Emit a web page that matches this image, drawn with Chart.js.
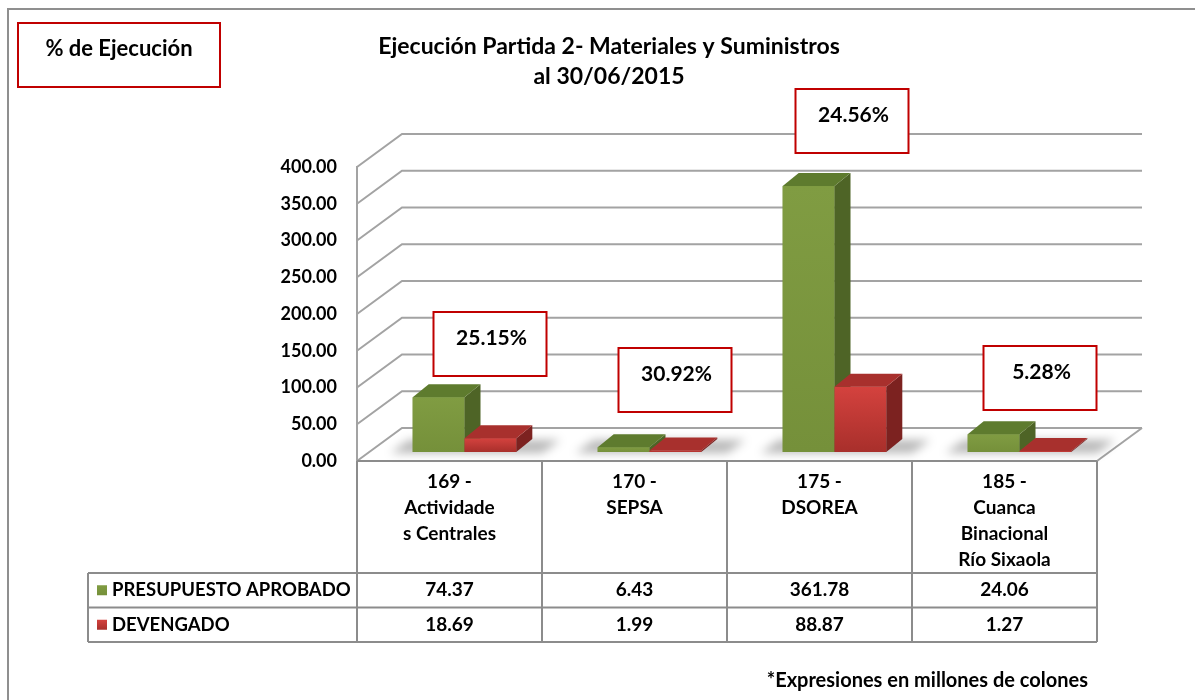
<!DOCTYPE html>
<html>
<head>
<meta charset="utf-8">
<script src="https://cdn.jsdelivr.net/npm/chart.js@4.4.0/dist/chart.umd.min.js"></script>
<style>
html, body { margin: 0; padding: 0; background: #fff; }
#wrap { width: 1195px; height: 700px; position: relative; }
</style>
</head>
<body>
<div id="wrap"><canvas id="chart"></canvas></div>
<script>
// ==========================================
// Data
// ==========================================

const categories = [
    ["169 -", "Actividade", "s Centrales"],
    ["170 -", "SEPSA"],
    ["175 -", "DSOREA"],
    ["185 -", "Cuanca", "Binacional", "Río Sixaola"]
];

const seriesNames = ["PRESUPUESTO APROBADO", "DEVENGADO"];

const presupuesto = [74.37, 6.43, 361.78, 24.06];

const devengado = [18.69, 1.99, 88.87, 1.27];

const ejecucion = [25.15, 30.92, 24.56, 5.28];

const yMin = 0;
const yMax = 400;
const yStep = 50;

const chartTitle = ["Ejecución Partida 2- Materiales y Suministros", "al 30/06/2015"];
const boxLabel = "% de Ejecución";
const footnote = "*Expresiones en millones de colones";


// ==========================================
// Look
// ==========================================

const FONT = "Lato, 'Open Sans', sans-serif";
const GRID = "#a3a3a3";
const WALL = {x: 45, y: -33};       // back wall offset
const SHIFT = {x: 15, y: -9};       // bars sit a bit inside the floor
const DEPTH = {x: 16, y: -13};      // bar thickness

const colors = [
    {front: ["#809c42", "#75903a"], side: "#4e6426", top: "#5e7b2e"},
    {front: ["#d4423e", "#a82f2b"], side: "#7c2220", top: "#a8302d"}
];

// % boxes, placed by hand like the text boxes of the original
const boxTop = [312, 348, 89, 346];
const boxShift = [40, 40, 32, 35];


// ==========================================
// 3D walls and bars
// ==========================================

function drawBar(ctx, el, c) {

    const p = el.getProps(["x", "y", "base", "width"], true);
    const x1 = p.x - p.width / 2;
    const x2 = p.x + p.width / 2;
    const top = Math.min(p.y, p.base);
    const base = p.base;

    const g = ctx.createLinearGradient(0, top, 0, base);
    g.addColorStop(0, c.front[0]);
    g.addColorStop(1, c.front[1]);
    ctx.fillStyle = g;
    ctx.fillRect(x1, top, x2 - x1, base - top);

    ctx.fillStyle = c.side;
    ctx.beginPath();
    ctx.moveTo(x2, top);
    ctx.lineTo(x2 + DEPTH.x, top + DEPTH.y);
    ctx.lineTo(x2 + DEPTH.x, base + DEPTH.y);
    ctx.lineTo(x2, base);
    ctx.closePath();
    ctx.fill();

    ctx.fillStyle = c.top;
    ctx.beginPath();
    ctx.moveTo(x1, top);
    ctx.lineTo(x1 + DEPTH.x, top + DEPTH.y);
    ctx.lineTo(x2 + DEPTH.x, top + DEPTH.y);
    ctx.lineTo(x2, top);
    ctx.closePath();
    ctx.fill();
}

const wallPlugin = {

    id: "wall3d",

    beforeDatasetsDraw(chart) {

        const {ctx, chartArea: a, scales: {y}} = chart;

        ctx.save();
        ctx.strokeStyle = GRID;
        ctx.lineWidth = 2;

        y.ticks.forEach(t => {
            const py = y.getPixelForValue(t.value);
            ctx.beginPath();
            ctx.moveTo(a.left, py);
            ctx.lineTo(a.left + WALL.x, py + WALL.y);
            ctx.lineTo(a.right + WALL.x, py + WALL.y);
            ctx.stroke();
        });

        // floor right edge
        ctx.beginPath();
        ctx.moveTo(a.right, a.bottom);
        ctx.lineTo(a.right + WALL.x, a.bottom + WALL.y);
        ctx.stroke();

        // soft shadows on the floor
        const m0 = chart.getDatasetMeta(0).data;
        const m1 = chart.getDatasetMeta(1).data;
        ctx.filter = "blur(5px)";
        ctx.fillStyle = "rgba(0,0,0,0.28)";
        m0.forEach((el, i) => {
            const g = el.getProps(["x", "width", "base"], true);
            const r = m1[i].getProps(["x", "width"], true);
            const l = g.x - g.width / 2 + SHIFT.x;
            const rr = r.x + r.width / 2 + SHIFT.x;
            const b = g.base + SHIFT.y;
            ctx.beginPath();
            ctx.moveTo(l - 22, b + 1);
            ctx.lineTo(rr + 26, b + 1);
            ctx.lineTo(rr + 44, b - 12);
            ctx.lineTo(l - 4, b - 12);
            ctx.closePath();
            ctx.fill();
        });
        ctx.filter = "none";
        ctx.restore();

        ctx.save();
        ctx.translate(SHIFT.x, SHIFT.y);
    },

    afterDatasetsDraw(chart) {

        const ctx = chart.ctx;
        const m0 = chart.getDatasetMeta(0).data;
        const m1 = chart.getDatasetMeta(1).data;

        m0.forEach((el, i) => {
            drawBar(ctx, el, colors[0]);
            drawBar(ctx, m1[i], colors[1]);
        });

        ctx.restore();
    }
};


// ==========================================
// Table, title and text boxes
// ==========================================

const tablePlugin = {

    id: "dataTable",

    afterDraw(chart) {

        const {ctx, chartArea: a, scales: {x}} = chart;
        const slot = (a.right - a.left) / categories.length;
        const headBottom = a.bottom + 112;
        const rowH = 34.5;
        const tableLeft = 88;

        ctx.save();

        // frame of the picture
        ctx.strokeStyle = "#8f8f8f";
        ctx.lineWidth = 2;
        ctx.beginPath();
        ctx.moveTo(8, 700);
        ctx.lineTo(8, 9);
        ctx.lineTo(1195, 9);
        ctx.stroke();

        // table lines
        ctx.strokeStyle = "#8c8c8c";
        ctx.lineWidth = 2;
        ctx.beginPath();
        ctx.moveTo(a.left, a.bottom);
        ctx.lineTo(a.right, a.bottom);
        for (let r = 0; r <= 2; r++) {
            ctx.moveTo(tableLeft, headBottom + r * rowH);
            ctx.lineTo(a.right, headBottom + r * rowH);
        }
        ctx.moveTo(tableLeft, headBottom);
        ctx.lineTo(tableLeft, headBottom + 2 * rowH);
        for (let i = 0; i <= categories.length; i++) {
            const px = a.left + i * slot;
            ctx.moveTo(px, a.bottom);
            ctx.lineTo(px, headBottom + 2 * rowH);
        }
        ctx.stroke();

        ctx.fillStyle = "#000";
        ctx.textAlign = "center";
        ctx.textBaseline = "middle";
        ctx.font = "bold 19px " + FONT;

        // category headers
        categories.forEach((lines, i) => {
            const cx = x.getPixelForValue(i);
            lines.forEach((t, k) => ctx.fillText(t, cx, a.bottom + 21 + k * 26));
        });

        // values
        [presupuesto, devengado].forEach((vals, r) => {
            const cy = headBottom + r * rowH + rowH / 2;
            ctx.font = "bold 19px " + FONT;
            vals.forEach((v, i) => ctx.fillText(v.toFixed(2), x.getPixelForValue(i), cy));

            const k = ctx.createLinearGradient(0, cy - 5, 0, cy + 5);
            k.addColorStop(0, colors[r].front[0]);
            k.addColorStop(1, colors[r].front[1]);
            ctx.fillStyle = k;
            ctx.fillRect(97, cy - 5, 10, 10);
            ctx.fillStyle = "#000";
            ctx.textAlign = "left";
            ctx.font = "bold 18.5px " + FONT;
            ctx.fillText(seriesNames[r], 112, cy);
            ctx.textAlign = "center";
        });

        // % boxes
        ctx.font = "bold 21px " + FONT;
        ejecucion.forEach((v, i) => {
            const cx = x.getPixelForValue(i) + boxShift[i];
            ctx.fillStyle = "#fff";
            ctx.fillRect(cx - 56, boxTop[i], 113, 64);
            ctx.strokeStyle = "#c00000";
            ctx.lineWidth = 2;
            ctx.strokeRect(cx - 56, boxTop[i], 113, 64);
            ctx.fillStyle = "#000";
            ctx.fillText(v.toFixed(2) + "%", cx + 2, boxTop[i] + 26);
        });

        // "% de Ejecución" box
        ctx.strokeStyle = "#c00000";
        ctx.strokeRect(18, 23, 202, 64);
        ctx.font = "bold 22px " + FONT;
        ctx.fillText(boxLabel, 119, 49);

        // title
        ctx.font = "bold 23px " + FONT;
        ctx.fillText(chartTitle[0], 609, 47);
        ctx.fillText(chartTitle[1], 609, 77);

        // footnote
        ctx.font = "bold 20px " + FONT;
        ctx.textAlign = "right";
        ctx.fillText(footnote, 1088, 681);

        ctx.restore();
    }
};


// ==========================================
// Chart
// ==========================================

new Chart(document.getElementById("chart"), {

    type: "bar",

    data: {
        labels: categories,
        datasets: [
            {
                label: seriesNames[0],
                data: presupuesto,
                backgroundColor: colors[0].front[1],
                borderWidth: 0
            },
            {
                label: seriesNames[1],
                data: devengado,
                backgroundColor: colors[1].front[1],
                borderWidth: 0
            }
        ]
    },

    options: {

        responsive: true,
        maintainAspectRatio: false,
        animation: false,
        categoryPercentage: 0.56,
        barPercentage: 1.0,

        layout: {
            padding: {left: 200, right: 98, top: 167, bottom: 239}
        },

        scales: {
            x: {
                display: false
            },
            y: {
                min: yMin,
                max: yMax,
                afterFit(scale) { scale.width = 157; },
                ticks: {
                    stepSize: yStep,
                    padding: 20,
                    color: "#000",
                    font: {family: FONT, size: 18, weight: "bold"},
                    callback: v => v.toFixed(2)
                },
                grid: {display: false, drawTicks: false},
                border: {display: true, color: GRID, width: 2}
            }
        },

        plugins: {
            legend: {display: false},
            tooltip: {enabled: false}
        }
    },

    plugins: [wallPlugin, tablePlugin]
});
</script>
</body>
</html>
